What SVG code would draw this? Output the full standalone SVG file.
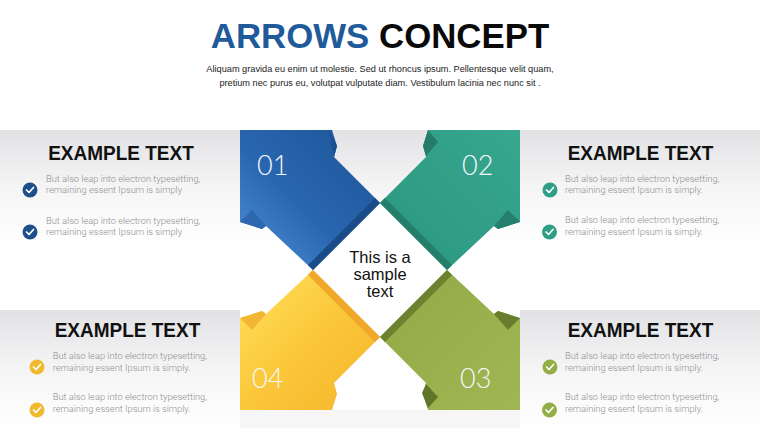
<svg xmlns="http://www.w3.org/2000/svg" width="760" height="428" viewBox="0 0 760 428">
<defs>
<linearGradient id="band" x1="0" y1="0" x2="0" y2="1">
<stop offset="0" stop-color="#e2e2e5"/>
<stop offset="0.5" stop-color="#f5f5f6"/>
<stop offset="1" stop-color="#ffffff"/>
</linearGradient>
<linearGradient id="gBlue" x1="0" y1="1" x2="1" y2="0">
<stop offset="0" stop-color="#4f93dc"/>
<stop offset="0.45" stop-color="#2a66b0"/>
<stop offset="1" stop-color="#1b5396"/>
</linearGradient>
<linearGradient id="gGreen" x1="0" y1="1" x2="1" y2="0">
<stop offset="0" stop-color="#2b9680"/>
<stop offset="1" stop-color="#37a78f"/>
</linearGradient>
<linearGradient id="gYellow" x1="0" y1="0" x2="1" y2="1">
<stop offset="0" stop-color="#ffe25e"/>
<stop offset="0.5" stop-color="#fbc73a"/>
<stop offset="1" stop-color="#f4b42a"/>
</linearGradient>
<linearGradient id="gOlive" x1="0" y1="0" x2="1" y2="1">
<stop offset="0" stop-color="#91a944"/>
<stop offset="1" stop-color="#a0b654"/>
</linearGradient>
</defs>
<style>
.title{font-family:"Liberation Sans",Arial,sans-serif;font-weight:700;font-size:34.8px}
.sub{font-family:"Liberation Sans",Arial,sans-serif;font-size:9.2px;fill:#222222;text-anchor:middle}
.head{font-family:"Liberation Sans",Arial,sans-serif;font-weight:700;font-size:19px;fill:#111111;text-anchor:middle}
.body{font-family:Roboto,"Liberation Sans",sans-serif;font-weight:300;font-size:9.3px;fill:#8e8e8e}
.num{font-family:Lato,"Open Sans",sans-serif;font-weight:300;font-size:27px;fill:#f4f7fb}
.center{font-family:"Liberation Sans",Arial,sans-serif;font-size:16.5px;fill:#111111;text-anchor:middle}
.chk{fill:none;stroke:#ffffff;stroke-width:1.7;stroke-linecap:round;stroke-linejoin:round}
</style>
<rect width="760" height="428" fill="#ffffff"/>
<g id="bands">
<rect x="0" y="130" width="760" height="115" fill="url(#band)"/>
<rect x="0" y="310" width="240" height="118" fill="url(#band)"/>
<rect x="520" y="310" width="240" height="118" fill="url(#band)"/>
<rect x="240" y="410" width="280" height="18" fill="#f6f6f7"/>
</g>
<g id="title">
<text class="title" x="380" y="48" text-anchor="middle"><tspan fill="#1f5b9b">ARROWS</tspan> <tspan fill="#0a0a0a">CONCEPT</tspan></text>
<text class="sub" x="380" y="71.5">Aliquam gravida eu enim ut molestie. Sed ut rhoncus ipsum. Pellentesque velit quam,</text>
<text class="sub" x="380" y="86">pretium nec purus eu, volutpat vulputate diam. Vestibulum lacinia nec nunc sit .</text>
</g>
<g id="center">
<polygon points="380,203 447,270 380,337 313,270" fill="#ffffff"/>
<text class="center" x="380" y="262.5">This is a</text>
<text class="center" x="380" y="280">sample</text>
<text class="center" x="380" y="296.5">text</text>
</g>
<g id="arrow-01">
<polygon points="240,130 332,130 337,146 334,157 380,203 313,270 266,226 262,229 240,222" fill="url(#gBlue)"/>
<polygon points="380,203 313,270 308,265 375,198" fill="#1a4c8a"/>
<polygon points="329,130 337,146 334,157" fill="#1a4f8e"/>
<polygon points="240,222 252,210 266,226 262,229" fill="#2d67ae"/>
<text class="num" x="257" y="175">01</text>
</g>
<g id="arrow-02">
<polygon points="520,130 428,130 423,146 426,157 380,203 447,270 494,226 498,229 520,222" fill="url(#gGreen)"/>
<polygon points="380,203 447,270 452,265 385,198" fill="#237e6b"/>
<polygon points="428,130 438,142 426,156 423,146" fill="#237d69"/>
<polygon points="520,222 508,210 494,226 498,229" fill="#257f6c"/>
<text class="num" x="462" y="175">02</text>
</g>
<g id="arrow-04">
<polygon points="240,410 332,410 337,394 334,383 380,337 313,270 266,314 262,311 240,318" fill="url(#gYellow)"/>
<polygon points="313,270 380,337 375,342 308,275" fill="#f0a82a"/>
<polygon points="240,318 252,330 266,314 262,311" fill="#f3b534"/>
<text class="num" x="252" y="388">04</text>
</g>
<g id="arrow-03">
<polygon points="520,410 428,410 423,394 426,383 380,337 447,270 494,314 498,311 520,318" fill="url(#gOlive)"/>
<polygon points="447,270 380,337 385,342 452,275" fill="#6b8330"/>
<polygon points="426,384 438,397 428,408 422,393" fill="#5f7528"/>
<polygon points="520,318 508,330 494,314 498,311" fill="#677f2c"/>
<text class="num" x="460" y="388">03</text>
</g>
<g id="card-01">
<text class="head" transform="translate(121,160) scale(1,1.05)">EXAMPLE TEXT</text>
<circle cx="30" cy="190" r="7.5" fill="#1d4f8a"/>
<path class="chk" d="M26.5,190 L29,192.5 L33.5,187.5"/>
<text class="body" x="46" y="181.7">But also leap into electron typesetting,</text>
<text class="body" x="46" y="193.3">remaining essent Ipsum is simply</text>
<circle cx="30" cy="232" r="7.5" fill="#1d4f8a"/>
<path class="chk" d="M26.5,232 L29,234.5 L33.5,229.5"/>
<text class="body" x="46" y="223.5">But also leap into electron typesetting,</text>
<text class="body" x="46" y="235.2">remaining essent Ipsum is simply</text>
</g>
<g id="card-02">
<text class="head" transform="translate(640.5,159.5) scale(1,1.05)">EXAMPLE TEXT</text>
<circle cx="550" cy="190" r="7.5" fill="#2e9e86"/>
<path class="chk" d="M546.5,190 L549,192.5 L553.5,187.5"/>
<text class="body" x="565" y="181.7">But also leap into electron typesetting,</text>
<text class="body" x="565" y="193.3">remaining essent Ipsum is simply.</text>
<circle cx="549.5" cy="232" r="7.5" fill="#2e9e86"/>
<path class="chk" d="M546,232 L548.5,234.5 L553,229.5"/>
<text class="body" x="565" y="223.3">But also leap into electron typesetting,</text>
<text class="body" x="565" y="235">remaining essent Ipsum is simply.</text>
</g>
<g id="card-04">
<text class="head" transform="translate(127.5,336.7) scale(1,1.05)">EXAMPLE TEXT</text>
<circle cx="37" cy="367" r="7.5" fill="#f0b92f"/>
<path class="chk" d="M33.5,367 L36,369.5 L40.5,364.5"/>
<text class="body" x="52.7" y="359.3">But also leap into electron typesetting,</text>
<text class="body" x="52.7" y="370.7">remaining essent Ipsum is simply.</text>
<circle cx="37" cy="410" r="7.5" fill="#f0b92f"/>
<path class="chk" d="M33.5,410 L36,412.5 L40.5,407.5"/>
<text class="body" x="52.7" y="400">But also leap into electron typesetting,</text>
<text class="body" x="52.7" y="411.7">remaining essent Ipsum is simply.</text>
</g>
<g id="card-03">
<text class="head" transform="translate(640.5,336.7) scale(1,1.05)">EXAMPLE TEXT</text>
<circle cx="550" cy="367" r="7.5" fill="#93ae45"/>
<path class="chk" d="M546.5,367 L549,369.5 L553.5,364.5"/>
<text class="body" x="565" y="359">But also leap into electron typesetting,</text>
<text class="body" x="565" y="370.7">remaining essent Ipsum is simply.</text>
<circle cx="549.5" cy="410" r="7.5" fill="#93ae45"/>
<path class="chk" d="M546,410 L548.5,412.5 L553,407.5"/>
<text class="body" x="565" y="400">But also leap into electron typesetting,</text>
<text class="body" x="565" y="411.7">remaining essent Ipsum is simply.</text>
</g>
</svg>
